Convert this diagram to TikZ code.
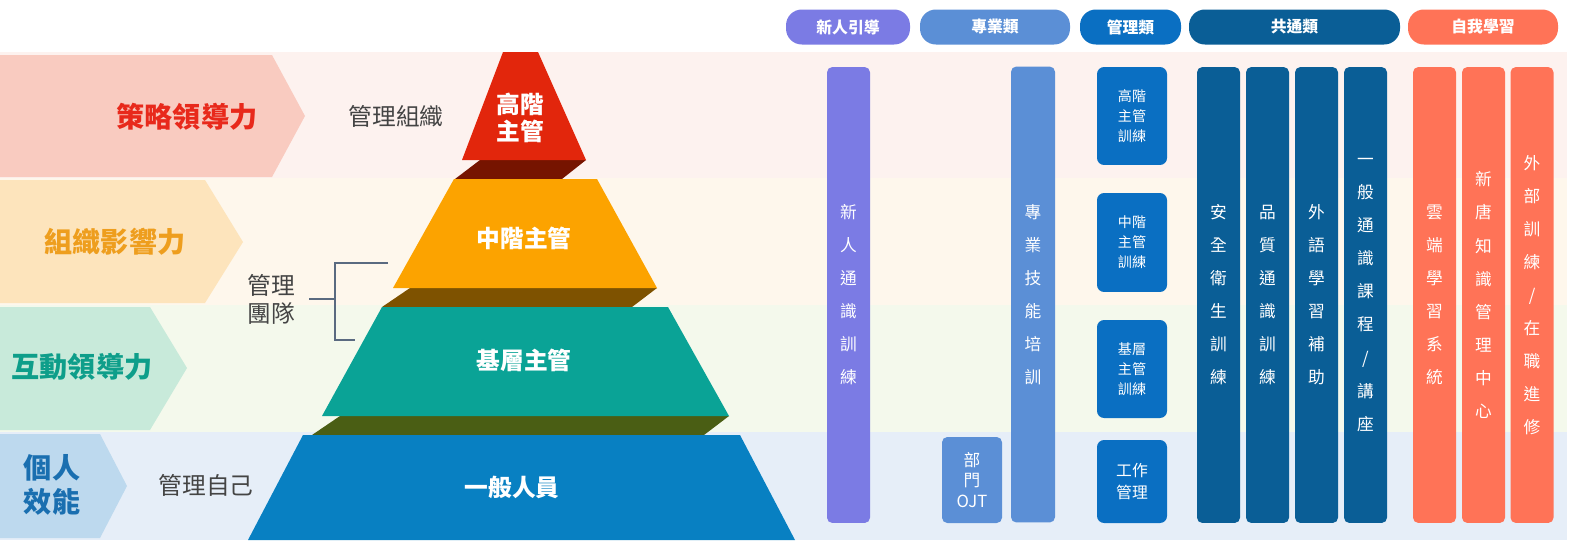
\documentclass[tikz,border=0pt]{standalone}
\usepackage{fontspec}
\setmainfont{Noto Sans CJK TC}
\definecolor{bA}{HTML}{FDF2EF}
\definecolor{bB}{HTML}{FEF7EC}
\definecolor{bC}{HTML}{F4F9EC}
\definecolor{bD}{HTML}{E6EEF8}
\definecolor{cA}{HTML}{F9CBC0}
\definecolor{cB}{HTML}{FDE4BC}
\definecolor{cC}{HTML}{C8EADA}
\definecolor{cD}{HTML}{BDD9EE}
\definecolor{tA}{HTML}{E8291B}
\definecolor{tB}{HTML}{EE9E1E}
\definecolor{tC}{HTML}{0E9E8A}
\definecolor{tD}{HTML}{1A6FB0}
\definecolor{pRed}{HTML}{E2260C}
\definecolor{pRedD}{HTML}{761400}
\definecolor{pOr}{HTML}{FCA300}
\definecolor{pOrD}{HTML}{7E5200}
\definecolor{pTe}{HTML}{0AA396}
\definecolor{pTeD}{HTML}{4A5E14}
\definecolor{pBl}{HTML}{0880C2}
\definecolor{gNew}{HTML}{7B7BE4}
\definecolor{gPro}{HTML}{5B8FD6}
\definecolor{gMan}{HTML}{0A6FC2}
\definecolor{gCom}{HTML}{0A5E96}
\definecolor{gSelf}{HTML}{FF7357}
\definecolor{grayT}{HTML}{444444}
\definecolor{brk}{HTML}{5A6A80}
\tikzset{
 pill/.style={fill=#1,rounded corners=9pt,text=white,font=\bfseries\fontsize{9}{11}\selectfont,minimum height=0.7cm,inner sep=0},
 vbar/.style={fill=#1,rounded corners=3pt,text=white,align=center,font=\fontsize{9.5}{18.8}\selectfont,inner sep=0,minimum width=0.86cm,minimum height=9.12cm},
 mbox/.style={fill=gMan,rounded corners=4pt,text=white,align=center,font=\fontsize{8}{11.3}\selectfont,inner sep=0,minimum width=1.4cm},
 ptext/.style={text=white,font=\bfseries\fontsize{13.5}{15}\selectfont,align=center},
 ltext/.style={text=grayT,font=\fontsize{13.5}{16}\selectfont,align=center},
 ctext/.style={font=\bfseries\fontsize{16}{19}\selectfont,align=center}
}
\begin{document}
\begin{tikzpicture}[x=0.02cm,y=-0.02cm]
\useasboundingbox (0,0) rectangle (1581,545);
% bands
\fill[bA] (0,52) rectangle (1567,178);
\fill[bB] (0,178) rectangle (1567,305);
\fill[bC] (0,305) rectangle (1567,432);
\fill[bD] (0,432) rectangle (1567,540);
% chevrons
\fill[cA] (0,55) -- (272,55) -- (305,116) -- (272,177) -- (0,177) -- cycle;
\fill[cB] (0,180) -- (205,180) -- (243,242) -- (205,303) -- (0,303) -- cycle;
\fill[cC] (0,307) -- (150,307) -- (187,368) -- (150,430) -- (0,430) -- cycle;
\fill[cD] (0,434) -- (100,434) -- (127,486) -- (100,538) -- (0,538) -- cycle;
\node[ctext,text=tA] (c1) at (187,117) {策略領導力};
\node[ctext,text=tB] (c2) at (115,242) {組織影響力};
\node[ctext,text=tC] (c3) at (82,367) {互動領導力};
\node[ctext,text=tD] (c4) at (52,485) {個人\\效能};
% pyramid
\fill[pRedD] (480,160) -- (586,160) -- (562,179) -- (455,179) -- cycle;
\fill[pRed] (503,52) -- (538,52) -- (586,160) -- (462,160) -- cycle;
\fill[pOrD] (410,288) -- (657,288) -- (632,307) -- (382,307) -- cycle;
\fill[pOr] (454,179) -- (597,179) -- (657,288) -- (393,288) -- cycle;
\fill[pTeD] (340,416) -- (729,416) -- (704,435) -- (312,435) -- cycle;
\fill[pTe] (382,307) -- (668,307) -- (729,416) -- (322,416) -- cycle;
\fill[pBl] (303,435) -- (740,435) -- (795,540) -- (248,540) -- cycle;
\node[ptext] (p1) at (520,118) {高階\\主管};
\node[ptext] (p2) at (524,238) {中階主管};
\node[ptext] (p3) at (524,360) {基層主管};
\node[ptext] (p4) at (512,487) {一般人員};
% side labels
\node[ltext] (l1) at (396,116) {管理組織};
\node[ltext] (l2) at (271,299) {管理\\團隊};
\node[ltext] (l3) at (206,485) {管理自己};
\coordinate (bt) at (388,263);
\coordinate (bb) at (355,340);
\coordinate (bm) at (309,299);
\draw[brk,line width=1.3pt] (bt) -- (335,263) -- (335,340) -- (bb);
\draw[brk,line width=1.3pt] (bm) -- (335,299);
% header pills
\node[pill=gNew,minimum width=2.48cm] (h1) at (848,27) {新人引導};
\node[pill=gPro,minimum width=3.0cm] (h2) at (995,27) {專業類};
\node[pill=gMan,minimum width=2.02cm] (h3) at (1130.5,27) {管理類};
\node[pill=gCom,minimum width=4.22cm] (h4) at (1294.5,27) {共通類};
\node[pill=gSelf,minimum width=3.0cm] (h5) at (1483,27) {自我學習};
% columns
\node[vbar=gNew] (v1) at (848.5,295) {新\\人\\通\\識\\訓\\練};
\node[vbar=gPro,minimum width=1.2cm,minimum height=1.72cm,font=\fontsize{9.5}{11.5}\selectfont] (v2) at (972,480) {部\\門\\OJT};
\node[vbar=gPro,minimum width=0.88cm] (v3) at (1033,294.5) {專\\業\\技\\能\\培\\訓};
\node[mbox,minimum height=1.96cm] (m1) at (1132,116) {高階\\主管\\訓練};
\node[mbox,minimum height=1.98cm] (m2) at (1132,242.5) {中階\\主管\\訓練};
\node[mbox,minimum height=1.96cm] (m3) at (1132,369) {基層\\主管\\訓練};
\node[mbox,minimum height=1.66cm,font=\fontsize{9}{13}\selectfont] (m4) at (1132,481.5) {工作\\管理};
\node[vbar=gCom] (k1) at (1218.5,295) {安\\全\\衛\\生\\訓\\練};
\node[vbar=gCom] (k2) at (1267.5,295) {品\\質\\通\\識\\訓\\練};
\node[vbar=gCom] (k3) at (1316.5,295) {外\\語\\學\\習\\補\\助};
\node[vbar=gCom] (k4) at (1365.5,295) {一\\般\\通\\識\\課\\程\\/\\講\\座};
\node[vbar=gSelf] (s1) at (1434.5,295) {雲\\端\\學\\習\\系\\統};
\node[vbar=gSelf] (s2) at (1483.5,295) {新\\唐\\知\\識\\管\\理\\中\\心};
\node[vbar=gSelf] (s3) at (1532,295) {外\\部\\訓\\練\\/\\在\\職\\進\\修};
\end{tikzpicture}
\end{document}
